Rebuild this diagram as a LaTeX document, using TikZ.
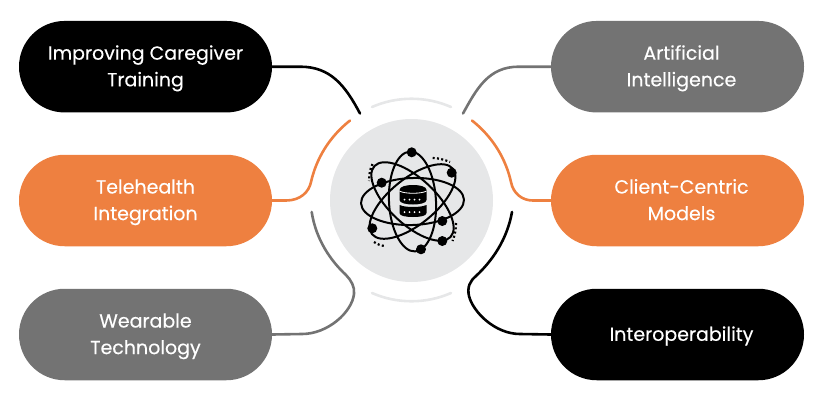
\documentclass[tikz,border=0pt]{standalone}
\usepackage{fontspec}
\setmainfont{Poppins}[FakeBold=0.25]
\definecolor{gblack}{HTML}{000000}
\definecolor{ggray}{HTML}{737373}
\definecolor{gorange}{HTML}{EE8040}
\definecolor{glight}{HTML}{E6E7E8}
\newcommand{\pl}[1]{\raisebox{-1.8pt}[14pt][5pt]{#1}}
\newcommand{\pr}[1]{\hspace*{8pt}\raisebox{-1.8pt}[14pt][5pt]{#1}}
\tikzset{
  pill/.style={draw=none,minimum width=253pt,minimum height=91.5pt,rounded corners=45.7pt,inner sep=0pt,
    text=white,align=center,font=\fontsize{19}{26.6}\selectfont},
  link/.style={line width=2.6pt,line cap=round},
  orbit/.style={draw=black,line width=2pt},
  atom/.style={circle,fill=black,minimum size=10pt,inner sep=0pt},
  speck/.style={line width=2.2pt,dash pattern=on 2pt off 2.3pt},
}
\begin{document}
\begin{tikzpicture}[x=1pt,y=-1pt]
\useasboundingbox (0,0) rectangle (825,405);
% hub
\node[circle,fill=glight,minimum size=163pt,inner sep=0pt] (hub) at (411.5,200.5) {};
\draw[glight,line width=2.6pt,line cap=round] (372,107) .. controls (397,96) and (426,96) .. (451,107);
\draw[glight,line width=2.6pt,line cap=round] (372,293) .. controls (397,304) and (426,304) .. (451,293);
% boxes
\node[pill,fill=gblack] (a) at (145.5,66.7) {\pl{Improving Caregiver}\\\pl{Training}};
\node[pill,fill=gorange] (b) at (145.5,200.5) {\pl{Telehealth}\\\pl{Integration}};
\node[pill,fill=ggray] (c) at (145.5,334.5) {\pl{Wearable}\\\pl{Technology}};
\node[pill,fill=ggray] (d) at (677.5,66.7) {\pr{Artificial}\\\pr{Intelligence}};
\node[pill,fill=gorange] (e) at (677.5,200.5) {\pr{Client-Centric}\\\pr{Models}};
\node[pill,fill=gblack] (f) at (677.5,334.5) {\pr{Interoperability}};
% free ends
\coordinate (ea) at (360,113.5);
\coordinate (eb) at (350,120.5);
\coordinate (ec) at (311.7,212);
\coordinate (ed) at (463,113.5);
\coordinate (ee) at (472,120.5);
\coordinate (ef) at (512,212);
% connectors
\draw[link,gblack] (a.east) -- ++(28,0) .. controls +(30,0) and (345,85) .. (ea);
\draw[link,gorange] (b.east) -- ++(14,0) .. controls +(14,0) and (309,192) .. (311,182)
  .. controls (316,160) and (328,138) .. (eb);
\draw[link,ggray] (ec) .. controls (316,240) and (331,261) .. (346,275)
  .. controls (351,280) and (355,287) .. (354,294)
  .. controls (352,312) and (328,334) .. (302,334) -- (c.east);
\draw[link,ggray] (d.west) -- ++(-32,0) .. controls +(-30,0) and (477,88) .. (ed);
\draw[link,gorange] (e.west) -- ++(-18,0) .. controls +(-11,0) and (513,193) .. (511,182)
  .. controls (506,160) and (494,138) .. (ee);
\draw[link,gblack] (ef) .. controls (507,240) and (492,261) .. (476,276)
  .. controls (470,281) and (467,287) .. (469,296)
  .. controls (473,312) and (495,334) .. (520,334) -- (f.west);
% icon
\begin{scope}[x=1pt,y=1pt,shift={(412.5pt,-201.5pt)}]
  \draw[orbit,rotate=93] (0,0) ellipse (50 and 23.5);
  \draw[orbit,rotate=2] (0,0) ellipse (51.5 and 23.5);
  \draw[orbit,rotate=-43] (0,0) ellipse (52 and 23);
  \draw[orbit,rotate=39] (0,0) ellipse (52 and 23);
\end{scope}
\node[atom] (n1) at (411.7,152.3) {};
\node[atom] (n2) at (451.7,172.7) {};
\node[atom] (n3) at (381.7,182.7) {};
\node[atom] (n4) at (442.3,221) {};
\node[atom] (n5) at (442.3,241) {};
\node[atom] (n6) at (372.3,228.3) {};
\node[atom] (n7) at (421,249.3) {};
\draw[speck] (432.7,158) .. controls (438,158) and (444,159.5) .. (450,162);
\draw[speck] (372.5,164) .. controls (370,169) and (369,175) .. (369,181);
\draw[speck] (456,223) .. controls (456,229) and (455,235) .. (452.5,241);
\draw[speck] (374,242) .. controls (377,244) and (381,246) .. (386,246);
% database
\fill[black] (399.5,190) .. controls (399.5,186.5) and (406,185) .. (413,185) .. controls (420,185) and (426.5,186.5) .. (426.5,190)
  -- (426.5,200) .. controls (426.5,203) and (420,204.5) .. (413,204.5) .. controls (406,204.5) and (399.5,203) .. (399.5,200) -- cycle;
\fill[black] (399.5,205) .. controls (403,206.5) and (408,207) .. (413,207) .. controls (418,207) and (423,206.5) .. (426.5,205)
  -- (426.5,213) .. controls (426.5,216) and (420,217) .. (413,217) .. controls (406,217) and (399.5,216) .. (399.5,213) -- cycle;
\draw[white,line width=.8pt] (399.5,191) .. controls (404,194) and (422,194) .. (426.5,191);
\foreach \x in {404.5,409.5,414.5,419.5} {
  \fill[white] (\x,199.5) circle (1pt);
  \fill[white] (\x,212) circle (1pt);
}
\end{tikzpicture}
\end{document}
